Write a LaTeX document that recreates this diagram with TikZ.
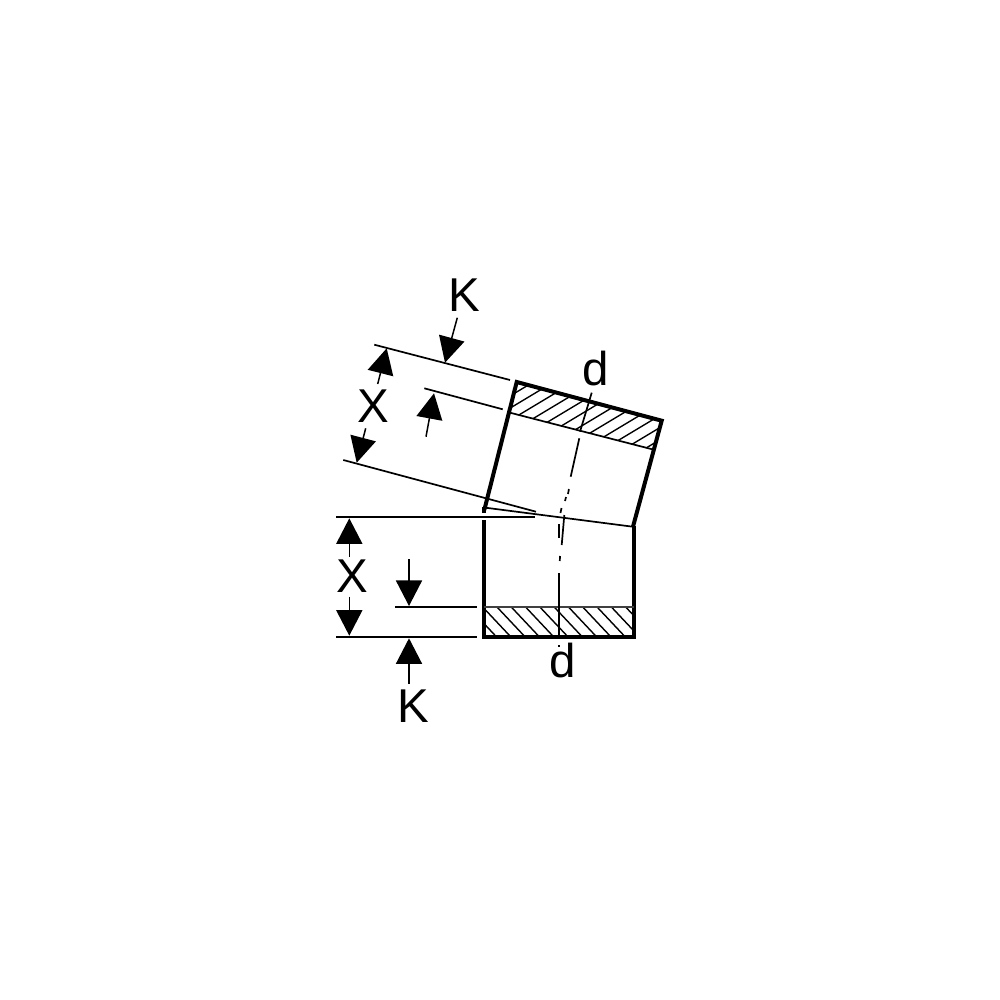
\documentclass[tikz,border=0pt]{standalone}
\usepackage{fontspec}
\setmainfont{Liberation Sans}
\usetikzlibrary{arrows.meta}
\tikzset{
	outline/.style={line width=0.4mm, line join=miter},
	thinline/.style={line width=0.17mm},
	hatchline/.style={line width=0.14mm},
	centreline/.style={line width=0.17mm},
	dimarrow/.style={line width=0.15mm, -{Triangle[length=0.255cm,width=0.26cm]}},
	dimlabel/.style={inner sep=0pt, font=\fontsize{13.5pt}{13.5pt}\selectfont}
}
\begin{document}
\begin{tikzpicture}[x=0.01cm,y=-0.01cm]
			%%%%% START %%%%%
			\useasboundingbox (0, 0) rectangle (1000, 1000);
			
			% hatching of the upper band
			\begin{scope}
				\clip (516.7, 382) -- (661.7, 420.7) -- (655, 450) -- (510, 412.7) -- cycle;
				\foreach \i in {-1,...,14}
					\draw[hatchline] ({526.7+14*\i-60}, {386+3.75*\i+36}) -- ++(120, -72);
			\end{scope}
			
			% hatching of the lower band
			\begin{scope}
				\clip (483.7, 606.7) rectangle (633.7, 636.7);
				\foreach \i in {-2,...,10}
					\draw[hatchline] ({496.7+14.3*\i}, 606.7) -- ++(32, 34);
			\end{scope}
			
			% pipe walls
			\draw[outline] (484.3, 510) -- (516.7, 382) -- (661.7, 420.7) -- (632.9, 527);
			\draw[outline] (483.7, 507) -- (483.7, 513);
			\draw[outline] (483.7, 520) -- (483.7, 636.7) -- (633.7, 636.7) -- (633.7, 526);
			
			% band edges and joint
			\draw[thinline] (510, 412.7) -- (655, 450);
			\draw[thinline, color=black!75] (483.7, 606.7) -- (633.7, 606.7);
			\draw[thinline] (484, 507.5) -- (632.7, 526.7);
			
			% extension lines
			\draw[thinline] (374.3, 344.7) -- (510, 380);
			\draw[thinline] (424.3, 388.3) -- (502.7, 409.3);
			\draw[thinline] (343.3, 460) -- (536, 511.7);
			\draw[thinline] (336, 516.7) -- (535, 516.7);
			\draw[thinline] (395.3, 606.7) -- (476.7, 606.7);
			\draw[line width=0.22mm] (336, 636.7) -- (476.7, 636.7);
			
			% centre line, upper leg
			\draw[centreline] (591.7, 392.7) -- (580, 431.7);
			\draw[centreline] (579.3, 438.3) -- (570.7, 476.7);
			\draw[centreline] (568.9, 489) -- (568, 494);
			\draw[centreline] (566, 497) -- (565, 501);
			\draw[centreline] (561.5, 508) -- (560.5, 513);
			\draw[centreline] (564.3, 515) -- (561.7, 545);
			\draw[centreline] (560, 556) -- (559.8, 561);
			
			% centre line, lower leg
			\draw[centreline] (558.7, 524) -- (558.7, 538);
			\draw[centreline] (558.7, 573) -- (558.7, 636);
			\draw[centreline] (558.7, 645) -- (558.7, 647);
			
			% dimension arrows
			\draw[dimarrow] (457.3, 317.7) -- (445, 362.7);
			\draw[dimarrow] (377.7, 384) -- (386.7, 348.3);
			\draw[dimarrow] (365.7, 428.3) -- (356.7, 462.7);
			\draw[dimarrow] (426, 436.7) -- (434, 393.3);
			\draw[dimarrow] (349.3, 556.7) -- (349.3, 518.3);
			\draw[dimarrow] (349.3, 596.7) -- (349.3, 635.7);
			\draw[dimarrow] (409, 559) -- (409, 606);
			\draw[dimarrow] (409, 684) -- (409, 638.3);
			
			% labels
			\node[dimlabel] (ktop) at (464, 295) {K};
			\node[dimlabel] (xtop) at (373, 406) {X};
			\node[dimlabel] (dtop) at (595.3, 369) {d};
			\node[dimlabel] (xbottom) at (352, 576.5) {X};
			\node[dimlabel] (kbottom) at (413, 706) {K};
			\node[dimlabel] (dbottom) at (562.3, 661) {d};
			%%%%% END %%%%%
\end{tikzpicture}
\end{document}
